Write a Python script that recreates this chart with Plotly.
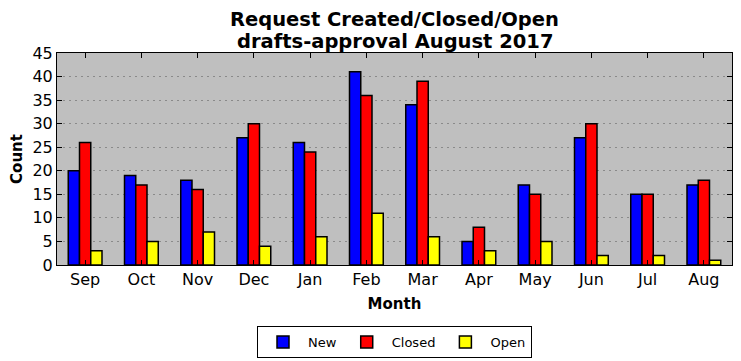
import plotly.graph_objects as go

months = ["Sep", "Oct", "Nov", "Dec", "Jan", "Feb", "Mar", "Apr", "May", "Jun", "Jul", "Aug"]
new_vals = [20, 19, 18, 27, 26, 41, 34, 5, 17, 27, 15, 17]
closed_vals = [26, 17, 16, 30, 24, 36, 39, 8, 15, 30, 15, 18]
open_vals = [3, 5, 7, 4, 6, 11, 6, 3, 5, 2, 2, 1]
y_ticks = list(range(0, 46, 5))
title_lines = ["Request Created/Closed/Open", "drafts-approval August 2017"]

x = list(range(len(months)))
font = "DejaVu Sans"

fig = go.Figure()
for name, vals, color in [("New", new_vals, "#0000ff"),
                          ("Closed", closed_vals, "#ff0000"),
                          ("Open", open_vals, "#ffff00")]:
    fig.add_trace(go.Bar(x=x, y=vals, name=name, marker=dict(color=color, line=dict(color="black", width=1.5))))

for line, shift in zip(title_lines, [34, 12]):
    fig.add_annotation(text=f"<b>{line}</b>", x=0.5, xref="paper", y=1, yref="paper",
                       xanchor="center", yanchor="middle", yshift=shift, showarrow=False,
                       font=dict(size=19.5, family=font, color="black"))

fig.update_layout(
    width=733, height=353,
    margin=dict(l=49, r=9, t=45, b=96, autoexpand=False),
    paper_bgcolor="white", plot_bgcolor="#bfbfbf",
    barmode="group", bargap=0.4, bargroupgap=0,
    font=dict(family=font, color="black"),
    xaxis=dict(range=[-0.5, 11.5], tickmode="array", tickvals=x, ticktext=months,
               showline=True, linecolor="black", linewidth=1, mirror="ticks",
               ticks="inside", ticklen=5, tickcolor="black", showgrid=False,
               tickfont=dict(size=16), zeroline=False, automargin=False,
               title=dict(text="<b>Month</b>", font=dict(size=15), standoff=10)),
    yaxis=dict(range=[0, 45], tickmode="array", tickvals=y_ticks,
               showline=True, linecolor="black", linewidth=1, mirror="ticks",
               ticks="inside", ticklen=5, tickcolor="black",
               showgrid=True, gridcolor="#8a8a8a", griddash="2px,4px", gridwidth=1,
               tickfont=dict(size=16), zeroline=False, automargin=False,
               title=dict(text="<b>Count</b>", font=dict(size=15), standoff=15)),
    legend=dict(orientation="h", x=0.5, xanchor="center", y=-0.288, yanchor="top",
                bordercolor="black", borderwidth=1, font=dict(size=13),
                itemwidth=40, traceorder="normal"),
)
fig.write_html("out.html")
